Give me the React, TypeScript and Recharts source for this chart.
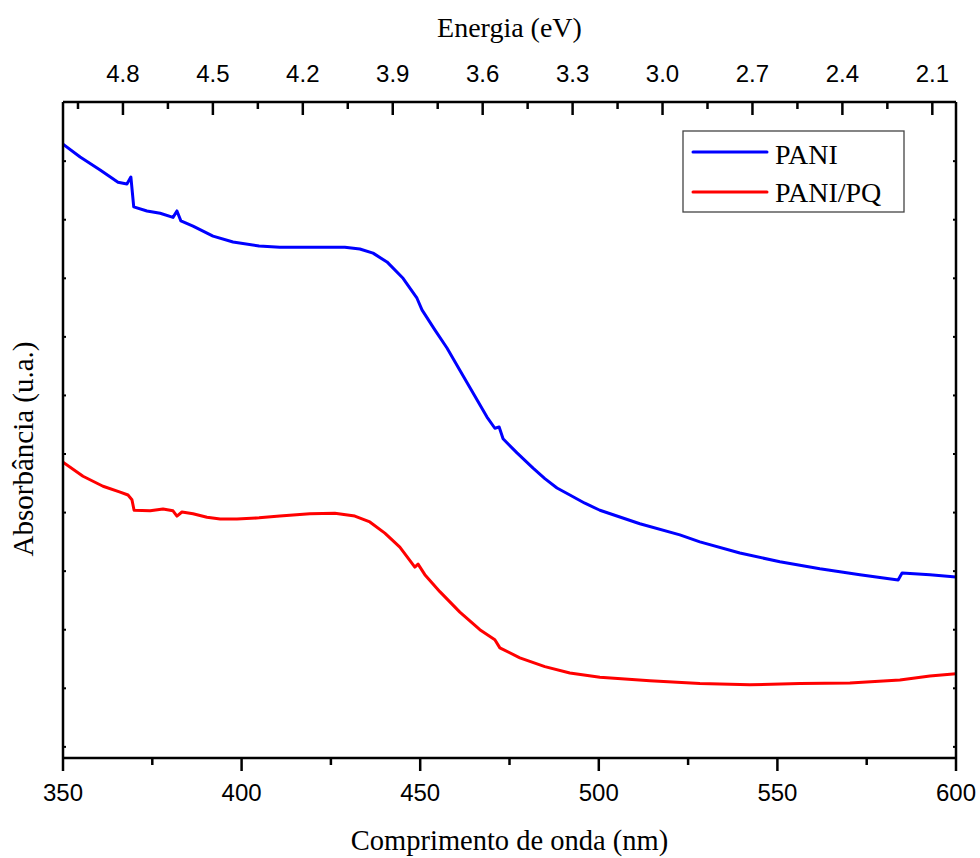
import React from "react";
import { LineChart, Line, XAxis, YAxis, Legend, Label } from "recharts";

// ---- data (wavelength nm, absorbance a.u.) ----
const paniWavelength = [350.0, 354.8, 360.4, 365.4, 367.9, 369.0, 369.8, 373.5, 377.2, 380.8, 381.9, 383.0, 386.4, 392.0, 397.6, 404.9, 410.7, 421.9, 428.9, 433.1, 436.8, 440.7, 445.2, 449.1, 450.5, 454.1, 457.5, 461.1, 464.8, 468.7, 470.9, 472.1, 473.2, 477.1, 481.6, 484.9, 488.3, 491.9, 496.1, 500.3, 511.5, 522.7, 528.3, 539.5, 550.7, 561.9, 573.1, 583.8, 584.9, 592.7, 600.0];
const paniAbs = [1.029, 1.007, 0.985, 0.964, 0.961, 0.973, 0.922, 0.915, 0.911, 0.904, 0.915, 0.898, 0.889, 0.872, 0.862, 0.855, 0.853, 0.853, 0.853, 0.850, 0.843, 0.828, 0.800, 0.766, 0.746, 0.712, 0.681, 0.643, 0.604, 0.563, 0.544, 0.546, 0.526, 0.502, 0.476, 0.458, 0.442, 0.430, 0.416, 0.404, 0.381, 0.362, 0.350, 0.331, 0.316, 0.304, 0.294, 0.285, 0.297, 0.294, 0.290];

const paniPqWavelength = [350.0, 355.6, 361.2, 366.0, 368.2, 369.3, 369.9, 374.4, 378.0, 380.8, 381.9, 383.3, 386.4, 390.3, 394.0, 398.7, 404.9, 410.7, 419.1, 426.1, 431.7, 435.9, 440.1, 444.3, 448.5, 449.4, 451.3, 455.5, 461.1, 466.7, 470.9, 472.3, 477.9, 484.9, 491.9, 500.3, 514.3, 528.3, 542.3, 556.3, 570.3, 584.3, 592.7, 600.0];
const paniPqAbs = [0.486, 0.462, 0.445, 0.435, 0.430, 0.422, 0.404, 0.403, 0.406, 0.403, 0.394, 0.401, 0.398, 0.392, 0.389, 0.389, 0.391, 0.394, 0.398, 0.399, 0.394, 0.384, 0.365, 0.341, 0.307, 0.312, 0.294, 0.265, 0.230, 0.200, 0.183, 0.169, 0.152, 0.137, 0.126, 0.119, 0.113, 0.108, 0.106, 0.108, 0.109, 0.114, 0.121, 0.125];

const wavelengthTicks = [350, 375, 400, 425, 450, 475, 500, 525, 550, 575, 600];
const wavelengthLabels = [350, 400, 450, 500, 550, 600];
const energyDomain = [2.021, 5.0];
const energyTicks = [4.95, 4.8, 4.65, 4.5, 4.35, 4.2, 4.05, 3.9, 3.75, 3.6, 3.45, 3.3, 3.15, 3.0, 2.85, 2.7, 2.55, 2.4, 2.25, 2.1];
const energyLabels = [4.8, 4.5, 4.2, 3.9, 3.6, 3.3, 3.0, 2.7, 2.4, 2.1];
const absTicks = [0, 0.1, 0.2, 0.3, 0.4, 0.5, 0.6, 0.7, 0.8, 0.9, 1.0];

const paniData = paniWavelength.map((nm, i) => ({ nm, abs: paniAbs[i] }));
const paniPqData = paniPqWavelength.map((nm, i) => ({ nm, abs: paniPqAbs[i] }));
// invisible helper series so the top (energy) axis is bound to a series
const energyData = energyDomain.map((eV) => ({ eV, abs: null }));

const SANS = "'Liberation Sans', Arial, sans-serif";
const SERIF = "'Liberation Serif', 'Times New Roman', serif";

const BottomTick = (props: any) => {
  const { x, y, payload } = props;
  const major = wavelengthLabels.includes(payload.value);
  return (
    <g>
      <line x1={x} x2={x} y1={y} y2={y + (major ? 13 : 7)} stroke="#000" strokeWidth={2.5} />
      {major && (
        <text x={x} y={y + 43} textAnchor="middle" fontFamily={SANS} fontSize={24} fill="#000">
          {payload.value}
        </text>
      )}
    </g>
  );
};

const TopTick = (props: any) => {
  const { x, y, payload } = props;
  const major = energyLabels.some((v) => Math.abs(v - payload.value) < 1e-6);
  return (
    <g>
      <line x1={x} x2={x} y1={y} y2={y + (major ? 13 : 7)} stroke="#000" strokeWidth={2.5} />
      {major && (
        <text x={x} y={y - 20} textAnchor="middle" fontFamily={SANS} fontSize={24} fill="#000">
          {Number(payload.value).toFixed(1)}
        </text>
      )}
    </g>
  );
};

const LeftTick = (props: any) => {
  const { x, y } = props;
  return <line x1={x} x2={x + 3} y1={y} y2={y} stroke="#000" strokeWidth={2} />;
};

const RightTick = (props: any) => {
  const { x, y } = props;
  return <line x1={x - 3} x2={x} y1={y} y2={y} stroke="#000" strokeWidth={2} />;
};

const LegendBox = () => (
  <svg width={224} height={84} style={{ display: "block" }}>
    <rect x={1} y={1} width={221} height={81} fill="#fff" stroke="#444" strokeWidth={1.3} />
    <line x1={11} x2={85} y1={22} y2={22} stroke="#0000ff" strokeWidth={3} strokeLinecap="round" />
    <text x={93} y={34} fontFamily={SERIF} fontSize={28} fill="#000">PANI</text>
    <line x1={11} x2={85} y1={62} y2={62} stroke="#ff0000" strokeWidth={3} strokeLinecap="round" />
    <text x={93} y={72} fontFamily={SERIF} fontSize={28} fill="#000">PANI/PQ</text>
  </svg>
);

export default function App() {
  return (
    <div style={{ position: "absolute", left: 0, top: 0, width: 980, height: 858, background: "#fff" }}>
      <LineChart width={980} height={858} margin={{ top: 0, right: 0, bottom: 0, left: 0 }}>
        <XAxis
          xAxisId="bottom"
          dataKey="nm"
          type="number"
          domain={[350, 600]}
          ticks={wavelengthTicks}
          allowDataOverflow
          orientation="bottom"
          height={100}
          tickSize={0}
          tickMargin={0}
          tickLine={false}
          tick={<BottomTick />}
          axisLine={{ stroke: "#000", strokeWidth: 2.5 }}
          interval={0}
        >
          <Label
            content={(p: any) => {
              const vb = p.viewBox;
              return (
                <text x={vb.x + vb.width / 2} y={vb.y + 92} textAnchor="middle" fontFamily={SERIF} fontSize={28.5} fill="#000">
                  Comprimento de onda (nm)
                </text>
              );
            }}
          />
        </XAxis>
        <XAxis
          xAxisId="top"
          dataKey="eV"
          type="number"
          domain={energyDomain}
          reversed
          ticks={energyTicks}
          allowDataOverflow
          orientation="top"
          height={102}
          tickSize={0}
          tickMargin={0}
          tickLine={false}
          tick={<TopTick />}
          axisLine={{ stroke: "#000", strokeWidth: 2.5 }}
          interval={0}
        >
          <Label
            content={(p: any) => {
              const vb = p.viewBox;
              return (
                <text x={vb.x + vb.width / 2} y={vb.y + 37} textAnchor="middle" fontFamily={SERIF} fontSize={28} fill="#000">
                  Energia (eV)
                </text>
              );
            }}
          />
        </XAxis>
        <YAxis
          yAxisId="left"
          type="number"
          domain={[-0.019, 1.101]}
          ticks={absTicks}
          allowDataOverflow
          orientation="left"
          width={63}
          tickSize={0}
          tickMargin={0}
          tickLine={false}
          tick={<LeftTick />}
          axisLine={{ stroke: "#000", strokeWidth: 2.5 }}
          interval={0}
        >
          <Label
            content={(p: any) => {
              const vb = p.viewBox;
              const cx = vb.x + 33;
              const cy = vb.y + vb.height / 2 + 19;
              return (
                <text x={cx} y={cy} transform={`rotate(-90, ${cx}, ${cy})`} textAnchor="middle" fontFamily={SERIF} fontSize={29} fill="#000">
                  Absorbância (u.a.)
                </text>
              );
            }}
          />
        </YAxis>
        <YAxis
          yAxisId="right"
          type="number"
          domain={[-0.019, 1.101]}
          ticks={absTicks}
          allowDataOverflow
          orientation="right"
          width={24}
          tickSize={0}
          tickMargin={0}
          tickLine={false}
          tick={<RightTick />}
          axisLine={{ stroke: "#000", strokeWidth: 2.5 }}
          interval={0}
        />
        <Legend
          layout="vertical"
          align="center"
          verticalAlign="middle"
          content={() => <LegendBox />}
          wrapperStyle={{ position: "absolute", left: 682, top: 130, width: 224, height: 84 }}
        />
        <Line
          xAxisId="top"
          yAxisId="right"
          data={energyData}
          dataKey="abs"
          legendType="none"
          stroke="none"
          dot={false}
          activeDot={false}
          isAnimationActive={false}
        />
        <Line
          xAxisId="bottom"
          yAxisId="left"
          data={paniData}
          dataKey="abs"
          name="PANI"
          type="linear"
          stroke="#0000ff"
          strokeWidth={3}
          dot={false}
          activeDot={false}
          isAnimationActive={false}
          strokeLinejoin="round"
        />
        <Line
          xAxisId="bottom"
          yAxisId="left"
          data={paniPqData}
          dataKey="abs"
          name="PANI/PQ"
          type="linear"
          stroke="#ff0000"
          strokeWidth={3}
          dot={false}
          activeDot={false}
          isAnimationActive={false}
          strokeLinejoin="round"
        />
      </LineChart>
    </div>
  );
}
